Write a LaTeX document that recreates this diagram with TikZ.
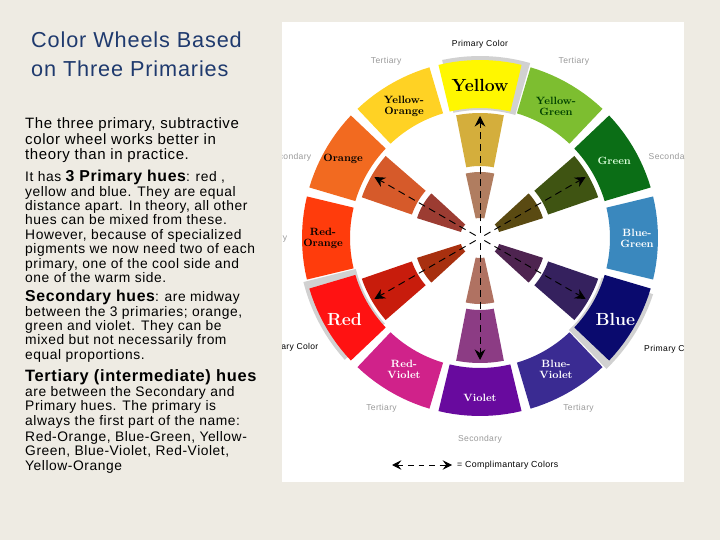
\documentclass[tikz,border=0pt]{standalone}
\usepackage{fontspec}
\setsansfont[LetterSpace=4]{Liberation Sans}
\usetikzlibrary{arrows.meta}
\definecolor{bgbeige}{HTML}{EEEBE3}
\definecolor{titleblue}{HTML}{1F3A6E}
\definecolor{lblgray}{HTML}{9A9A9A}
\newcommand\wseg[5]{\fill[#5] plot[domain=#1-#4:#1+#4,samples=12] (\x:#3) -- plot[domain=#1+#4:#1-#4,samples=12] (\x:#2) -- cycle;}
\tikzset{
  body/.style={font=\sffamily\fontsize{11.8}{12.3}\selectfont, anchor=north west, align=left, inner sep=0pt, text=black},
  seglbl/.style={font=\rmfamily\bfseries\fontsize{9}{9.5}\selectfont, align=center, inner sep=0pt},
  bigseg/.style={font=\rmfamily\bfseries\fontsize{15}{16}\selectfont, inner sep=0pt},
  ringlbl/.style={font=\sffamily\fontsize{7.3}{8}\selectfont, text=lblgray, inner sep=0pt},
  comp/.style={thick, dash pattern=on 6pt off 4pt, -{Stealth[length=9pt,width=9pt,inset=3pt]}},
}
\begin{document}
\begin{tikzpicture}[x=0.03cm,y=-0.03cm]
\fill[bgbeige] (0,0) rectangle (720,540);
\useasboundingbox (0,0) rectangle (720,540);
\fill[white] (282,22) rectangle (684,482);

% left text
\node[anchor=north west, align=left, inner sep=0pt, text=titleblue, font=\sffamily\fontsize{18.5}{24.5}\selectfont] (title) at (31,32) {Color Wheels Based\\on Three Primaries};
\node[body, font=\sffamily\fontsize{12.8}{13.6}\selectfont] (para1) at (25,117) {The three primary, subtractive\\color wheel works better in\\theory than in practice.};
\node[body] (para2) at (25,170) {It has {\fontsize{13.5}{12.3}\selectfont\bfseries 3 Primary hues}: red ,\\yellow and blue. They are equal\\distance apart. In theory, all other\\hues can be mixed from these.\\However, because of specialized\\pigments we now need two of each\\primary, one of the cool side and\\one of the warm side.};
\node[body] (para3) at (25,290) {{\fontsize{13.5}{12.3}\selectfont\bfseries Secondary hues}: are midway\\between the 3 primaries; orange,\\green and violet. They can be\\mixed but not necessarily from\\equal proportions.};
\node[body, font=\sffamily\bfseries\fontsize{14}{14}\selectfont] (para4h) at (25,369) {Tertiary (intermediate) hues};
\node[body] (para4) at (25,386) {are between the Secondary and\\Primary hues. The primary is\\always the first part of the name:\\[1.5pt]Red-Orange, Blue-Green, Yellow-\\Green, Blue-Violet, Red-Violet,\\Yellow-Orange};

% wheel
\begin{scope}
\clip (282,22) rectangle (684,482);
\begin{scope}[shift={(480,238)}, yscale=-1]
% shadows of the primaries
\foreach \a in {90,210,330}{\wseg{\a-2}{128}{182}{14}{black!18}}
% outer ring
\foreach \a/\c in {90/FFF700, 60/7DBE30, 30/0B6E16, 0/3A88BE, 330/0A0A6E, 300/3A2B92,
                   270/680A9E, 240/D0228A, 210/FF1212, 180/FF3C0C, 150/F26A20, 120/FFD224}{
  \definecolor{segc}{HTML}{\c}
  \wseg{\a}{130}{178}{13.5}{segc}
}
% inner rings
\foreach \a/\c/\d in {90/D4AE3C/B07D60, 30/3F5412/5A4A12, 330/35215E/4E2450,
                      270/8C3C84/B07262, 210/C81C0C/A8300F, 150/D65A2A/9C3C32}{
  \definecolor{ringa}{HTML}{\c}\definecolor{ringb}{HTML}{\d}
  \wseg{\a}{72}{125}{11}{ringa}
  \wseg{\a}{20}{66}{12.5}{ringb}
}
% segment labels
\node[bigseg] (lbl-yellow) at (90:153) {Yellow};
\node[bigseg, text=white] (lbl-red) at (211:158) {Red};
\node[bigseg, text=white] (lbl-blue) at (329:158) {Blue};
\node[seglbl] (lbl-yo) at (120:152) {Yellow-\\Orange};
\node[seglbl, text=black!75!green] (lbl-yg) at (60:152) {Yellow-\\Green};
\node[seglbl, text=green!15] (lbl-green) at (30:155) {Green};
\node[seglbl, text=white] (lbl-bg) at (0:157) {Blue-\\Green};
\node[seglbl, text=white] (lbl-bv) at (300:152) {Blue-\\Violet};
\node[seglbl, text=white] (lbl-violet) at (270:160) {Violet};
\node[seglbl, text=white] (lbl-rv) at (240:152) {Red-\\Violet};
\node[seglbl] (lbl-ro) at (180:157) {Red-\\Orange};
\node[seglbl] (lbl-orange) at (150:158) {Orange};
% ring labels
\node[ringlbl] (t-yo) at (118:200) {Tertiary};
\node[ringlbl] (t-yg) at (62:200) {Tertiary};
\node[ringlbl] (t-rv) at (240:197) {Tertiary};
\node[ringlbl] (t-bv) at (300:197) {Tertiary};
\node[ringlbl] (t-ro) at (180:208) {Tertiary};
\node[ringlbl] (t-bg) at (0:222) {Tertiary};
\node[ringlbl] (s-orange) at (157:207) {Secondary};
\node[ringlbl] (s-green) at (23:207) {Secondary};
\node[ringlbl] (s-violet) at (270:201) {Secondary};
\node[ringlbl, text=black] (p-yellow) at (90:194) {Primary Color};
\node[ringlbl, text=black] (p-red) at (210:219) {Primary Color};
\node[ringlbl, text=black] (p-blue) at (330:222) {Primary Color};
% complementary arrows
\foreach \n/\a in {yellow/90, green/30, blue/330, violet/270, red/210, orange/150}{
  \coordinate (c-\n-in) at (\a:5);
  \coordinate (c-\n-out) at (\a:122);
  \draw[comp] (c-\n-in) -- (c-\n-out);
}
\end{scope}
\end{scope}

% legend
\coordinate (leg-a) at (392,465);
\coordinate (leg-b) at (452,465);
\draw[thick, dash pattern=on 5pt off 4pt, {Stealth[length=8pt,width=8pt,inset=3pt]}-{Stealth[length=8pt,width=8pt,inset=3pt]}] (leg-a) -- (leg-b);
\node[anchor=west, inner sep=0pt, font=\sffamily\fontsize{7.5}{8}\selectfont] (legend) at (457,465) {=\ Complimantary Colors};
\end{tikzpicture}
\end{document}
